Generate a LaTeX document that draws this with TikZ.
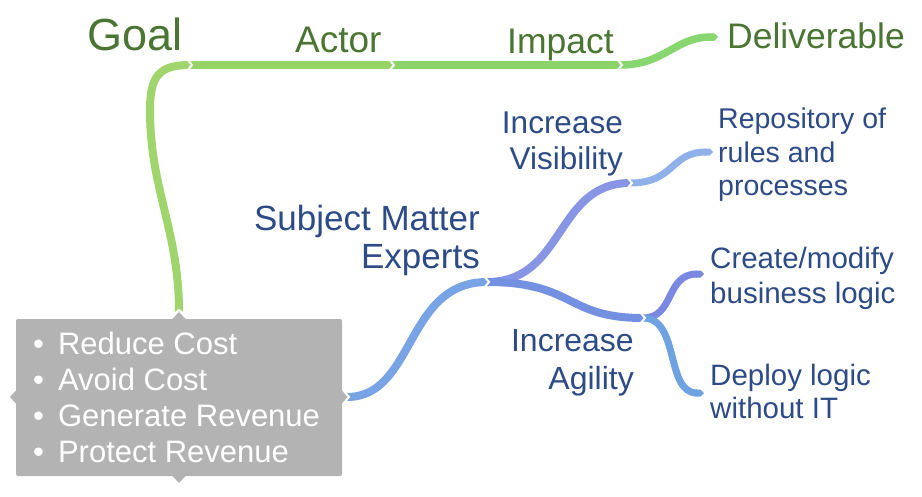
\documentclass[tikz,border=0pt]{standalone}
\usepackage{fontspec}
\setmainfont{Liberation Sans}
\usetikzlibrary{arrows.meta}
\definecolor{gtxt}{HTML}{4A7532}
\definecolor{btxt}{HTML}{2D4B86}
\definecolor{boxgray}{HTML}{B3B3B3}
\definecolor{gA}{HTML}{9FD56C}
\definecolor{gB}{HTML}{96D466}
\definecolor{gC}{HTML}{8CD46A}
\definecolor{gD}{HTML}{88D670}
\definecolor{bA}{HTML}{78A3E4}
\definecolor{bB}{HTML}{8894E4}
\definecolor{bC}{HTML}{7391E0}
\definecolor{bD}{HTML}{8FB0E8}
\definecolor{bE}{HTML}{7A88E2}
\definecolor{bF}{HTML}{6FA2E0}
\begin{document}
\begin{tikzpicture}[x=1pt,y=-1pt,
  gtext/.style={text=gtxt, inner sep=0},
  btext/.style={text=btxt, inner sep=0},
  branch/.style={line width=8pt},
  leaf/.style={line width=7pt, -{Triangle Cap[]}},
  chev/.pic={\draw[white, line width=2pt, line join=miter] (-3,-6) -- (2,0) -- (-3,6);}
]
\fill[white] (0,0) rectangle (922,496);
\useasboundingbox (0,0) rectangle (922,496);

% junction coordinates
\coordinate (boxtop) at (179,312);
\coordinate (goalJ) at (190,65);
\coordinate (actorJ) at (392,65);
\coordinate (impactJ) at (620,65);
\coordinate (delivE) at (718,37);
\coordinate (boxright) at (347,397);
\coordinate (smeJ) at (487,282);
\coordinate (visJ) at (630,183);
\coordinate (repE) at (713,152);
\coordinate (agiJ) at (643,318);
\coordinate (creE) at (704,274);
\coordinate (depE) at (704,393);

% box
\node[fill=boxgray, rounded corners=2pt, minimum width=326pt, minimum height=157pt, inner sep=0] (box) at (179,397.5) {};
\fill[boxgray] (172,319.5) -- (179,312) -- (186,319.5) -- cycle;
\fill[boxgray] (172,475.5) -- (179,483) -- (186,475.5) -- cycle;
\fill[boxgray] (16.5,390) -- (10,397) -- (16.5,404) -- cycle;
\fill[boxgray] (341.5,390) -- (348,397) -- (341.5,404) -- cycle;
\node[anchor=north west, inner sep=0, text=white, font=\fontsize{31}{36}\selectfont] (list) at (33,328.8)
  {\begin{tabular}{@{}l@{\hspace{14pt}}l@{}}•&Reduce Cost\\•&Avoid Cost\\•&Generate Revenue\\•&Protect Revenue\end{tabular}};

% green connectors
\draw[branch, gA] (boxtop) .. controls (179,230) and (150,190) .. (150,110) .. controls (150,75) and (160,65) .. (goalJ);
\draw[branch, gB] (goalJ) -- (actorJ);
\draw[branch, gC] (actorJ) -- (impactJ);
\draw[leaf, line width=7.5pt, gD] (impactJ) .. controls (665,65) and (675,37) .. (delivE);

% blue connectors
\draw[branch, bA] (boxright) .. controls (415,397) and (405,282) .. (smeJ);
\draw[branch, bB] (smeJ) .. controls (565,282) and (555,183) .. (visJ);
\draw[branch, bC] (smeJ) .. controls (575,282) and (565,318) .. (agiJ);
\draw[leaf, bD] (visJ) .. controls (675,183) and (670,152) .. (repE);
\draw[leaf, bE] (agiJ) .. controls (675,318) and (665,274) .. (creE);
\draw[leaf, bF] (agiJ) .. controls (680,318) and (665,393) .. (depE);

% chevrons at joins
\pic[rotate=90] at (boxtop) {chev};
\pic at (goalJ) {chev};
\pic at (actorJ) {chev};
\pic at (impactJ) {chev};
\pic at (boxright) {chev};
\pic at (smeJ) {chev};
\pic at (visJ) {chev};
\pic at (agiJ) {chev};

% texts
\node[gtext, anchor=base west, font=\fontsize{45}{54}\selectfont] (goal) at (87,50) {Goal};
\node[gtext, anchor=base west, font=\fontsize{37}{44}\selectfont] (actor) at (295,52) {Actor};
\node[gtext, anchor=base west, font=\fontsize{35.5}{42}\selectfont] (impact) at (507,53) {Impact};
\node[gtext, anchor=base west, font=\fontsize{35.5}{42}\selectfont] (deliv) at (727,48) {Deliverable};

\node[btext, anchor=north east, align=right, font=\fontsize{35}{38}\selectfont] (sme) at (480,204.5) {Subject Matter\\Experts};
\node[btext, anchor=north east, align=right, font=\fontsize{31.5}{36}\selectfont] (vis) at (623,112) {Increase\\Visibility};
\node[btext, anchor=north east, align=right, font=\fontsize{32}{38}\selectfont] (agi) at (634,329) {Increase\\Agility};
\node[btext, anchor=north west, align=left, font=\fontsize{28.5}{33.5}\selectfont] (rep) at (718,108) {Repository of\\rules and\\processes};
\node[btext, anchor=north west, align=left, font=\fontsize{29.5}{35}\selectfont] (cre) at (710,246.5) {Create/modify\\business logic};
\node[btext, anchor=north west, align=left, font=\fontsize{29.5}{33}\selectfont] (dep) at (710,363.5) {Deploy logic\\without IT};
\end{tikzpicture}
\end{document}
